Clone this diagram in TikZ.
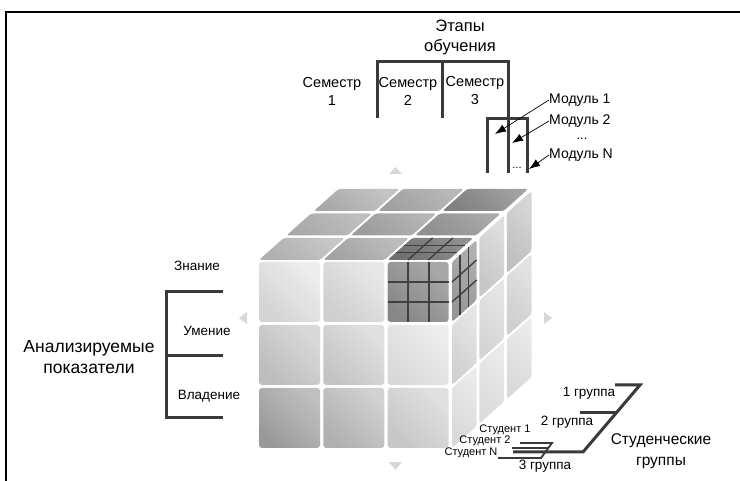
\documentclass[tikz,border=0pt]{standalone}
\usepackage{fontspec}
\setmainfont{Liberation Sans}
\usetikzlibrary{arrows.meta}
\definecolor{brk}{HTML}{3A3A3A}
\definecolor{tri}{HTML}{D8D8D8}
\definecolor{gridc}{HTML}{404040}
\begin{document}
\begin{tikzpicture}[x=1pt,y=-1pt,
  brline/.style={draw=brk,line width=3pt},
  stline/.style={draw=brk,line width=1.9pt},
  gridline/.style={draw=gridc,line width=1.4pt},
  arr/.style={draw=black,line width=0.7pt,-{Latex[length=11pt,width=8pt]}},
  triang/.style={fill=tri,draw=none},
  lbl/.style={inner sep=0pt,align=center}]
\useasboundingbox (0,0) rectangle (740,481);
% frame
\draw[line width=2pt] (5,12) -- (740,12);
\draw[line width=2pt] (6,11) -- (6,481);
% front face
\foreach \r/\c/\la/\lb in {0/0/93/83,0/1/91/81,0/2/66/53,1/0/85/74,1/1/88/77,1/2/93/85,2/0/75/60,2/1/82/69,2/2/88/78}{
  \shade[rounded corners=3pt, top color=white!\la!black, bottom color=white!\lb!black, shading angle=-45]
   ({259+64.3*\c},{262+63*\r}) rectangle ++(61,60);
}
% top face
\begin{scope}[shift={(259,260)},x={(1pt,0pt)},y={(1.12pt,1pt)}]
\foreach \k/\c/\la/\lb in {0/0/78/69,0/1/74/64,0/2/56/44,1/0/75/66,1/1/71/61,1/2/66/56,2/0/77/66,2/1/72/63,2/2/63/50}{
  \shade[rounded corners=2.5pt, top color=white!\la!black, bottom color=white!\lb!black, shading angle=-45]
   ({64.3*\c},{24.5*\k}) -- ++(61,0) -- ++(0,22) -- ++(-61,0) -- cycle;
}
\foreach \u in {148.9,169.2}{\draw[gridline] (\u,0) -- (\u,22);}
\foreach \v in {7.3,14.7}{\draw[gridline] (128.6,\v) -- (189.6,\v);}
\end{scope}
% right face
\begin{scope}[shift={(452,262)},x={(1.12pt,1pt)},y={(0pt,-1pt)}]
\foreach \k/\r/\la/\lb in {0/0/69/59,0/1/90/82,0/2/92/85,1/0/87/78,1/1/90/83,1/2/92/86,2/0/84/75,2/1/89/81,2/2/92/85}{
  \shade[rounded corners=2.5pt, top color=white!\la!black, bottom color=white!\lb!black, shading angle=-45]
   ({24.5*\k},{63*\r}) -- ++(22,0) -- ++(0,60) -- ++(-22,0) -- cycle;
}
\foreach \u in {7.3,14.7}{\draw[gridline] (\u,0) -- (\u,60);}
\foreach \v in {20,40}{\draw[gridline] (0,\v) -- (22,\v);}
\end{scope}
% front highlighted grid
\foreach \u in {408,429}{\draw[gridline] (\u,262) -- (\u,322);}
\foreach \v in {282,302}{\draw[gridline] (388,\v) -- (449,\v);}
% triangles
\fill[triang] (389,174) -- (402,174) -- (395.5,167) -- cycle;
\fill[triang] (389,462) -- (402,462) -- (395.5,470) -- cycle;
\fill[triang] (247,312) -- (247,324) -- (239,318) -- cycle;
\fill[triang] (544,312) -- (544,324) -- (552,318) -- cycle;
% brackets
\draw[brline] (377,118) -- (377,62) -- (508,62) -- (508,173);
\draw[brline] (442,62) -- (442,118);
\draw[brline] (487,173) -- (487,119) -- (527,119) -- (527,173);
\draw[brline] (223,292) -- (166,292) -- (166,418) -- (223,418);
\draw[brline] (166,356) -- (223,356);
\draw[brline] (615,385) -- (640,385) -- (583,452) -- (513,452);
\draw[brline] (580,413) -- (616,413);
\draw[stline] (520,443) -- (552,443) -- (541,458) -- (498,458);
\draw[stline] (512,448) -- (548,448);
% labels
\node[lbl,font=\fontsize{16.5}{20}\selectfont] (etapy) at (460,37) {Этапы\\обучения};
\node[lbl,font=\fontsize{14.5}{18}\selectfont] (s1) at (332,91) {Семестр\\1};
\node[lbl,font=\fontsize{14.5}{18}\selectfont] (s2) at (408,91) {Семестр\\2};
\node[lbl,font=\fontsize{14.5}{18}\selectfont] (s3) at (475,91) {Семестр\\3};
\node[lbl,anchor=west,font=\fontsize{14}{16}\selectfont] (m1) at (549,100) {Модуль 1};
\node[lbl,anchor=west,font=\fontsize{14}{16}\selectfont] (m2) at (549,121) {Модуль 2};
\node[lbl,font=\fontsize{13}{16}\selectfont] (mdots) at (582,139) {...};
\node[lbl,anchor=west,font=\fontsize{14}{16}\selectfont] (mN) at (549,155) {Модуль N};
\node[lbl,font=\fontsize{11}{14}\selectfont] (mdots2) at (517,168) {...};
\coordinate (t1) at (495,134);
\coordinate (t2) at (512,143);
\coordinate (tN) at (529,169);
\draw[arr] (m1.west) -- (t1);
\draw[arr] (m2.west) -- (t2);
\draw[arr] (mN.west) -- (tN);
\node[lbl,font=\fontsize{13.5}{16}\selectfont] (zn) at (197,266) {Знание};
\node[lbl,font=\fontsize{13.5}{16}\selectfont] (um) at (207,331) {Умение};
\node[lbl,font=\fontsize{13.5}{16}\selectfont] (vl) at (209,396) {Владение};
\node[lbl,font=\fontsize{17.5}{21}\selectfont] (an) at (89,357) {Анализируемые\\показатели};
\node[lbl,font=\fontsize{13.5}{16}\selectfont] (g1) at (589,393) {1 группа};
\node[lbl,font=\fontsize{13.5}{16}\selectfont] (g2) at (567,422) {2 группа};
\node[lbl,font=\fontsize{13.5}{16}\selectfont] (g3) at (545,466) {3 группа};
\node[lbl,font=\fontsize{11}{13}\selectfont] (st1) at (505,430) {Студент 1};
\node[lbl,font=\fontsize{11}{13}\selectfont] (st2) at (485,441) {Студент 2};
\node[lbl,font=\fontsize{11}{13}\selectfont] (stN) at (471,453) {Студент N};
\node[lbl,font=\fontsize{15.5}{21}\selectfont] (sg) at (661,451) {Студенческие\\группы};
\end{tikzpicture}
\end{document}
